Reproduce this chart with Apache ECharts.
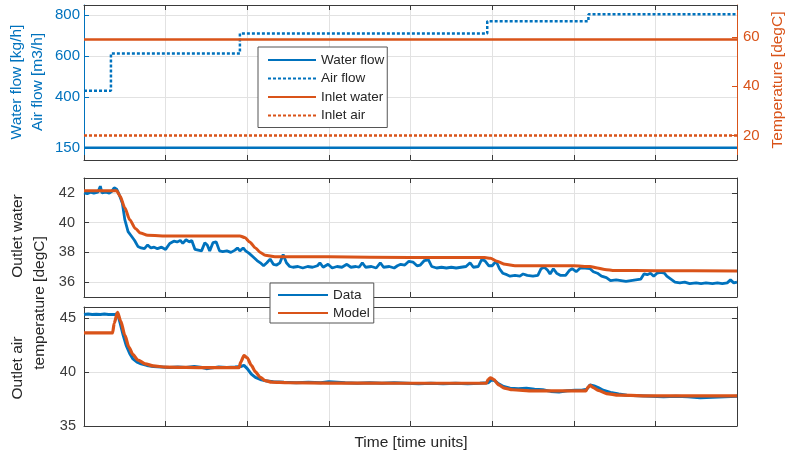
<!DOCTYPE html>
<html><head><meta charset="utf-8">
<script src="https://cdn.jsdelivr.net/npm/echarts@6/dist/echarts.min.js"></script>
<style>html,body{margin:0;padding:0;background:#fff}#c{width:787px;height:454px}</style>
</head><body><div id="c"></div>
<script>
// ---------- DATA (time in time units, 0..8) ----------
const waterFlow = [[0,150],[0.5,150.5],[1,149.5],[1.5,150.3],[2,150],[2.5,149.6],[3,150.4],[3.5,150],[4,149.7],[4.5,150.3],[5,150],[5.5,149.6],[6,150.2],[6.5,150],[7,149.7],[7.5,150.2],[8,150]];
const airFlow = [[0,430],[0.33,430],[0.33,612],[1.91,612],[1.91,710],[4.94,710],[4.94,770],[6.18,770],[6.18,805],[8,805]];
const inletWater = [[0,59],[8,59]];
const inletAir = [[0,20],[8,20]];

const outletWaterData = [[0,42.0],[0.04,41.95],[0.08,42.05],[0.12,41.98],[0.17,42.05],[0.2,42.45],[0.22,42.0],[0.27,42.05],[0.31,41.98],[0.34,42.1],[0.37,42.35],[0.4,42.25],[0.43,41.9],[0.47,41.3],[0.5,40.2],[0.54,39.4],[0.58,39.1],[0.62,38.8],[0.66,38.4],[0.7,38.3],[0.74,38.25],[0.78,38.5],[0.82,38.3],[0.86,38.35],[0.9,38.25],[0.95,38.35],[1.0,38.2],[1.05,38.6],[1.1,38.75],[1.14,38.7],[1.18,38.8],[1.21,38.6],[1.25,38.85],[1.29,38.7],[1.32,38.8],[1.36,38.2],[1.4,38.15],[1.44,38.1],[1.48,38.65],[1.51,38.5],[1.54,38.1],[1.58,38.65],[1.62,38.7],[1.66,38.1],[1.7,38.05],[1.75,38.1],[1.8,38.0],[1.85,38.15],[1.88,38.3],[1.91,38.1],[1.95,38.3],[1.98,38.1],[2.02,37.95],[2.07,37.7],[2.12,37.45],[2.16,37.3],[2.2,37.1],[2.24,37.3],[2.28,37.55],[2.32,37.2],[2.36,37.15],[2.4,37.3],[2.44,37.85],[2.48,37.3],[2.52,37.05],[2.56,37.0],[2.62,37.05],[2.68,36.95],[2.74,37.05],[2.8,37.0],[2.86,37.1],[2.89,37.3],[2.93,37.0],[2.99,37.2],[3.04,36.95],[3.1,37.05],[3.16,37.0],[3.22,37.2],[3.27,37.0],[3.33,37.05],[3.37,37.0],[3.41,37.3],[3.45,37.0],[3.52,37.05],[3.58,36.95],[3.63,37.3],[3.67,37.0],[3.74,37.05],[3.8,36.95],[3.84,37.1],[3.88,37.2],[3.93,37.15],[3.98,37.4],[4.03,37.35],[4.08,37.1],[4.12,37.15],[4.17,37.45],[4.22,37.5],[4.26,37.05],[4.32,36.95],[4.38,37.0],[4.44,36.95],[4.5,37.0],[4.56,36.95],[4.62,37.0],[4.68,37.05],[4.73,37.3],[4.77,37.0],[4.83,37.05],[4.87,37.5],[4.91,37.45],[4.96,37.1],[5.0,37.1],[5.05,37.4],[5.09,36.9],[5.13,36.6],[5.18,36.5],[5.22,36.4],[5.28,36.45],[5.34,36.4],[5.38,36.55],[5.43,36.45],[5.5,36.4],[5.56,36.45],[5.6,36.9],[5.64,37.0],[5.68,36.8],[5.71,36.55],[5.75,36.9],[5.79,36.6],[5.84,36.45],[5.9,36.45],[5.95,36.8],[5.98,36.9],[6.03,36.7],[6.08,36.95],[6.14,36.95],[6.2,36.9],[6.24,36.7],[6.29,36.6],[6.34,36.4],[6.4,36.3],[6.45,36.1],[6.52,36.15],[6.58,36.1],[6.64,36.05],[6.7,36.1],[6.76,36.15],[6.82,36.2],[6.86,36.55],[6.9,36.5],[6.94,36.6],[6.98,36.4],[7.02,36.6],[7.07,36.65],[7.11,36.6],[7.14,36.4],[7.19,36.2],[7.24,36.0],[7.3,35.95],[7.36,36.0],[7.42,35.9],[7.5,35.95],[7.56,35.9],[7.62,35.95],[7.7,35.9],[7.76,35.95],[7.82,35.9],[7.88,35.95],[7.92,36.15],[7.96,35.95],[8.0,36.0]];
const outletWaterModel = [[0,42.15],[0.4,42.15],[0.44,41.8],[0.5,41.0],[0.56,40.2],[0.63,39.6],[0.69,39.3],[0.78,39.15],[1.05,39.1],[1.54,39.1],[1.91,39.1],[1.97,39.0],[2.03,38.7],[2.1,38.3],[2.16,38.0],[2.22,37.8],[2.34,37.7],[3.0,37.7],[4.0,37.65],[4.91,37.65],[4.98,37.6],[5.06,37.4],[5.16,37.2],[5.28,37.1],[6.0,37.1],[6.2,37.05],[6.29,36.95],[6.38,36.85],[6.5,36.78],[7.0,36.77],[8.0,36.75]];

const outletAirData = [[0,45.3],[0.05,45.35],[0.1,45.3],[0.15,45.32],[0.2,45.3],[0.25,45.35],[0.3,45.3],[0.35,45.3],[0.38,45.3],[0.41,45.4],[0.44,44.6],[0.48,43.4],[0.52,42.4],[0.56,41.7],[0.6,41.2],[0.65,40.9],[0.7,40.75],[0.77,40.6],[0.85,40.5],[0.95,40.45],[1.05,40.4],[1.15,40.45],[1.25,40.4],[1.35,40.5],[1.45,40.4],[1.5,40.3],[1.55,40.35],[1.65,40.45],[1.75,40.4],[1.85,40.45],[1.92,40.5],[1.96,40.6],[2.0,40.3],[2.05,39.8],[2.1,39.5],[2.16,39.3],[2.24,39.15],[2.32,39.1],[2.45,39.05],[2.6,39.0],[2.75,39.05],[2.9,39.0],[3.0,39.1],[3.1,39.05],[3.2,39.0],[3.35,38.95],[3.5,39.0],[3.65,38.95],[3.8,39.0],[3.95,38.95],[4.1,38.9],[4.25,38.95],[4.4,38.9],[4.55,38.95],[4.7,38.9],[4.85,38.95],[4.95,39.0],[4.99,39.25],[5.03,39.2],[5.08,38.9],[5.14,38.65],[5.22,38.5],[5.32,38.45],[5.42,38.5],[5.52,38.4],[5.62,38.35],[5.72,38.2],[5.82,38.15],[5.92,38.25],[6.02,38.3],[6.1,38.3],[6.16,38.4],[6.2,38.8],[6.25,38.7],[6.3,38.55],[6.36,38.3],[6.45,38.1],[6.55,37.95],[6.65,37.85],[6.8,37.8],[6.95,37.75],[7.1,37.7],[7.25,37.75],[7.4,37.7],[7.55,37.6],[7.7,37.65],[7.85,37.7],[8.0,37.75]];
const outletAirModel = [[0,43.6],[0.35,43.6],[0.37,44.5],[0.41,45.5],[0.45,44.7],[0.5,43.4],[0.55,42.3],[0.6,41.6],[0.66,41.1],[0.75,40.75],[0.85,40.55],[1.0,40.45],[1.5,40.4],[1.9,40.4],[1.92,40.9],[1.96,41.5],[2.0,41.3],[2.05,40.6],[2.1,40.0],[2.16,39.5],[2.22,39.2],[2.3,39.05],[2.5,39.0],[3.0,38.97],[4.0,38.95],[4.93,38.95],[4.95,39.3],[4.98,39.45],[5.02,39.3],[5.08,38.8],[5.15,38.5],[5.25,38.35],[5.5,38.25],[6.15,38.25],[6.17,38.55],[6.2,38.75],[6.24,38.55],[6.3,38.3],[6.4,38.0],[6.55,37.85],[7.0,37.78],[8.0,37.78]];

const flowTicks = [150,400,600,800];
const tempTicks = [20,40,60];
const owTicks = [36,38,40,42];
const oaTicks = [35,40,45];

// ---------- STYLE ----------
const BLUE='#0072BD', ORANGE='#D95319', AX='#3a3a3a', GRIDC='#e2e2e2', TXT='#262626';
const FONT='"Liberation Sans", Arial, Helvetica, sans-serif';

function xAx(grid, pos, main){
  return {type:'value', gridIndex:grid, position:pos, min:0, max:8, interval:1,
    axisLine:{show:true, onZero:false, lineStyle:{color:AX,width:1}},
    axisTick:{show:true, inside:true, length:5, lineStyle:{color:AX}},
    axisLabel:{show:false},
    splitLine:{show:main, lineStyle:{color:GRIDC,width:1}}};
}
function yAx(grid, pos, min, max, ticks, color, showLabel, split, fs, margin){
  return {type:'value', gridIndex:grid, position:pos, min:min, max:max,
    axisLine:{show:true, onZero:false, lineStyle:{color:color,width:1}},
    axisTick:{show:true, inside:true, length:5, customValues:ticks, lineStyle:{color:color}},
    axisLabel:{show:showLabel, customValues:ticks, color:color, fontFamily:FONT, fontSize:fs, margin:margin},
    splitLine:{show:split, lineStyle:{color:GRIDC,width:1}}};
}
function rotText(txt, x, y, color){
  return {type:'text', x:x, y:y, rotation:Math.PI/2,
    style:{text:txt, fill:color, font:'15.5px '+FONT, align:'center', verticalAlign:'middle'}};
}
const legendCommon = {orient:'vertical', itemHeight:12, borderColor:'#555', borderWidth:1,
  backgroundColor:'#fff', itemStyle:{opacity:0}, selectedMode:false,
  textStyle:{fontFamily:FONT, fontSize:13.5, color:TXT}};

const chart = echarts.init(document.getElementById('c'), null, {renderer:'canvas'});
chart.setOption({
  animation:false,
  backgroundColor:'#fff',
  grid:[
    {left:84, right:50, top:5, height:155},
    {left:84, right:50, top:178, height:119},
    {left:84, right:50, top:307, height:119}
  ],
  xAxis:[xAx(0,'bottom',true), xAx(0,'top',false), xAx(1,'bottom',true), xAx(1,'top',false), xAx(2,'bottom',true), xAx(2,'top',false)],
  yAxis:[
    yAx(0,'left',90,850,flowTicks,BLUE,true,true,15,4),
    yAx(0,'right',10,73,tempTicks,ORANGE,true,false,15,6),
    yAx(1,'left',35,43,owTicks,AX,true,true,14.5,9),
    yAx(1,'right',35,43,owTicks,AX,false,false,14.5,8),
    yAx(2,'left',35,46,oaTicks,AX,true,true,14.5,8),
    yAx(2,'right',35,46,oaTicks,AX,false,false,14.5,8)
  ],
  legend:[
    Object.assign({}, legendCommon, {data:['Water flow','Air flow','Inlet water','Inlet air'], left:258, top:47,
      itemWidth:48, itemGap:4.5, padding:[6,3,5,9]}),
    Object.assign({}, legendCommon, {data:['Data','Model'], left:270, top:283,
      itemWidth:50, itemGap:4, padding:[5,4,3,7]})
  ],
  series:[
    {name:'Water flow', type:'line', xAxisIndex:0, yAxisIndex:0, data:waterFlow, symbol:'none', lineStyle:{color:BLUE,width:2.5}, itemStyle:{color:BLUE}},
    {name:'Air flow', type:'line', xAxisIndex:0, yAxisIndex:0, data:airFlow, symbol:'none', lineStyle:{color:BLUE,width:2.5,type:[3,2]}, itemStyle:{color:BLUE}},
    {name:'Inlet water', type:'line', xAxisIndex:0, yAxisIndex:1, data:inletWater, symbol:'none', lineStyle:{color:ORANGE,width:2.5}, itemStyle:{color:ORANGE}},
    {name:'Inlet air', type:'line', xAxisIndex:0, yAxisIndex:1, data:inletAir, symbol:'none', lineStyle:{color:ORANGE,width:2.5,type:[3,2]}, itemStyle:{color:ORANGE}},
    {name:'Data', type:'line', xAxisIndex:2, yAxisIndex:2, data:outletWaterData, symbol:'none', lineStyle:{color:BLUE,width:2.8}, itemStyle:{color:BLUE}},
    {name:'Model', type:'line', xAxisIndex:2, yAxisIndex:2, data:outletWaterModel, symbol:'none', smooth:0.25, smoothMonotone:'x', lineStyle:{color:ORANGE,width:3}, itemStyle:{color:ORANGE}},
    {name:'Data', type:'line', xAxisIndex:4, yAxisIndex:4, data:outletAirData, symbol:'none', lineStyle:{color:BLUE,width:3}, itemStyle:{color:BLUE}},
    {name:'Model', type:'line', xAxisIndex:4, yAxisIndex:4, data:outletAirModel, symbol:'none', smooth:0.25, smoothMonotone:'x', lineStyle:{color:ORANGE,width:3.2}, itemStyle:{color:ORANGE}}
  ],
  graphic:[
    rotText('Water flow [kg/h]', 17, 82, BLUE),
    rotText('Air flow [m3/h]', 38, 82, BLUE),
    rotText('Temperature [degC]', 778, 80, ORANGE),
    rotText('Outlet water', 18, 236, TXT),
    rotText('temperature [degC]', 40, 303, TXT),
    rotText('Outlet air', 18, 368, TXT),
    {type:'text', x:411, y:443, style:{text:'Time [time units]', fill:TXT, font:'15.5px '+FONT, align:'center', verticalAlign:'middle'}}
  ]
});
</script></body></html>
